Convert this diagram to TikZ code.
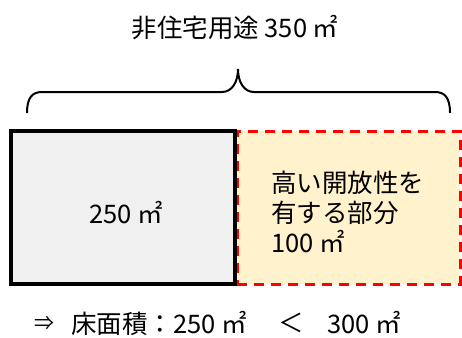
\documentclass[tikz,border=0pt]{standalone}
\usepackage{fontspec}
\setmainfont{Noto Sans CJK JP}
\definecolor{boxgray}{HTML}{F0F0F0}
\definecolor{boxyellow}{HTML}{FFF2CC}
\definecolor{dashred}{HTML}{FF0000}
\begin{document}
\begin{tikzpicture}[x=1pt,y=-1pt,
  lbl/.style={inner sep=0pt,font=\fontsize{25.5}{30}\selectfont},
  graybox/.style={draw=black,line width=4pt,fill=boxgray,inner sep=0pt},
  openbox/.style={draw=dashred,line width=3pt,dash pattern=on 10pt off 7pt,fill=boxyellow,inner sep=0pt},
  bracestyle/.style={draw=black,line width=2pt}]
\useasboundingbox (0,0) rectangle (462,337);
\node[openbox,minimum width=223pt,minimum height=153pt] (open) at (348.5,207.5) {};
\node[graybox,minimum width=224pt,minimum height=153pt] (floor) at (123,207.5) {};
\node[lbl] (flabel) at (126,213) {250 ㎡};
\node[lbl,align=left,anchor=west] (olabel) at (271,212) {高い開放性を\\有する部分\\100 ㎡};
\node[lbl] (title) at (235,28) {非住宅用途 350 ㎡};
\path[bracestyle] (27,113) .. controls (27,98) and (32,92) .. (42,92) -- (222,92)
  .. controls (232,92) and (238,82) .. (238,69)
  .. controls (238,82) and (244,92) .. (254,92) -- (435,92)
  .. controls (445,92) and (450,98) .. (450,113);
\node[lbl,anchor=west,font=\fontsize{20}{24}\selectfont] (arrow) at (34,323) {⇒};
\node[lbl,anchor=west] (result) at (71,323) {床面積：250 ㎡};
\node[lbl] (lt) at (291,323) {＜};
\node[lbl,anchor=west] (limit) at (327,323) {300 ㎡};
\end{tikzpicture}
\end{document}
